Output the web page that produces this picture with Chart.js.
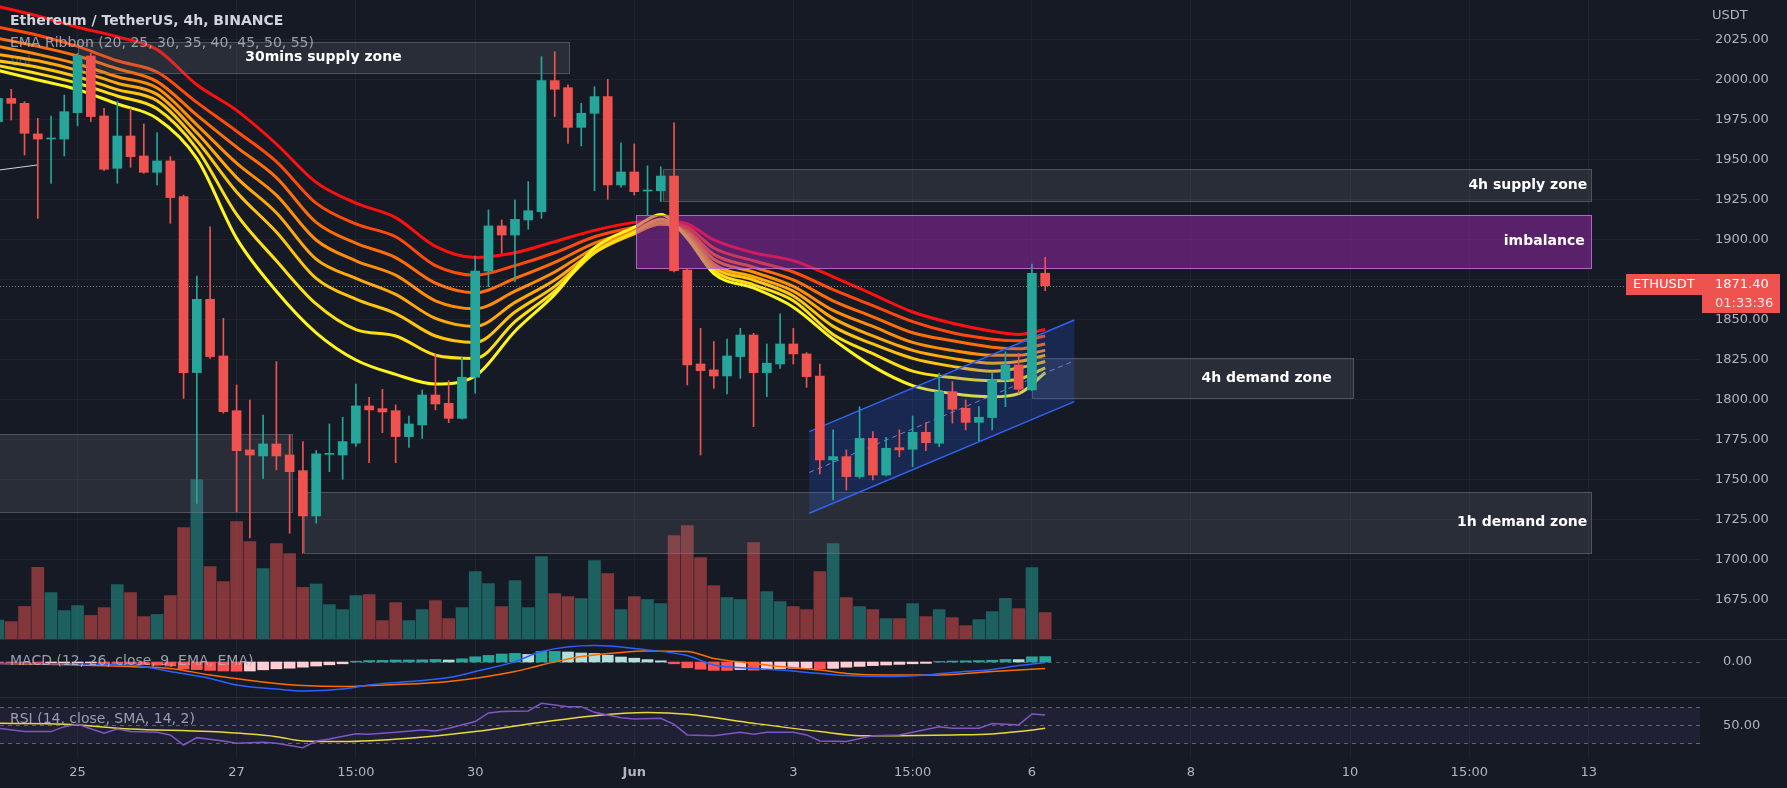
<!DOCTYPE html>
<html>
<head>
<meta charset="utf-8">
<title>ETHUSDT 4h</title>
<script src="https://cdn.jsdelivr.net/npm/chart.js@4.4.1/dist/chart.umd.min.js"></script>
<style>
  html, body { margin: 0; padding: 0; background: #161a25; overflow: hidden; }
  #wrap { position: relative; width: 1787px; height: 788px; }
  #wrap canvas { position: absolute; left: 0; }
  #cMain { top: 0; }
  #cMacd { top: 639px; }
  #cRsi { top: 697px; }
  .sep { position: absolute; left: 0; width: 1787px; height: 1px; background: #2a2e39; }
</style>
</head>
<body>
<div id="wrap">
  <canvas id="cMain" width="1787" height="639"></canvas>
  <canvas id="cMacd" width="1787" height="58"></canvas>
  <canvas id="cRsi" width="1787" height="91"></canvas>
  <div class="sep" style="top:639px"></div>
  <div class="sep" style="top:697px"></div>
</div>

<script>
// =====================================================================
// DATA  (candle index 0 = 24 May 03:00, one step = 4h)
// =====================================================================
const opens = [1974,1988.5,1985.4,1966.3,1963.1,1963.1,1979.6,2015,1977.5,1944.8,
  1965,1952.5,1942.3,1949.4,1927.1,1817.1,1862.9,1827.5,1793.3,1768.8,
  1765,1772.5,1765.6,1755.8,1727.5,1766,1765.6,1773,1796.3,1794.6,
  1793.3,1777.1,1784.4,1803.1,1797.9,1788.5,1814.2,1880.6,1908.8,1903.1,
  1912.5,1917.7,1999.6,1995.2,1970.4,1979.2,1989.6,1934.4,1942.5,1930.6,
  1930.8,1940,1881.2,1822.5,1818.8,1815,1827.1,1840.6,1817.1,1822.5,
  1835,1828.8,1815,1762.5,1764.6,1752.1,1776,1753.1,1770.2,1769.2,
  1779.8,1773,1805.2,1794.8,1786,1789,1812.5,1821.9,1806.3,1879.2];
const highs = [1992,1994.2,1986.5,1976,1977.5,1990.6,2016.7,2016.7,1982.3,1986.5,
  1982.3,1972.5,1967.1,1952.1,1928.1,1877.5,1908.3,1851,1809.4,1800,
  1790.6,1824,1778.1,1774,1768.3,1785,1789.2,1810,1801.7,1806.7,
  1797,1790,1806.3,1828.8,1812.1,1827,1890,1918.8,1912.5,1925,
  1936.5,2014.6,2017.7,1996.9,1985.4,1995.8,2000.4,1960.8,1960,1946.3,
  1945.8,1973.3,1882.3,1844.8,1836.5,1838,1844.8,1841.7,1835,1853.8,
  1844.8,1829.6,1822.5,1781.3,1768.8,1795.8,1780.2,1776.7,1781.3,1790,
  1785.8,1816.7,1811.5,1800,1795.8,1817.1,1830.2,1829.2,1885,1889.2];
const lows = [1970,1975,1953.1,1913.5,1935.4,1952.5,1971.3,1974,1943.3,1935.4,
  1945.4,1941.7,1934.4,1910.4,1801,1735.4,1826,1791.7,1730.2,1713.8,
  1751,1756.3,1716.7,1704.2,1723,1755.2,1750.4,1771,1760.8,1779.6,
  1760.8,1770.4,1776,1793.8,1785.8,1788,1804.2,1870.8,1891.7,1874,
  1906.7,1913.5,1977.1,1960.4,1958.8,1930.8,1925.4,1933,1928.1,1915,
  1924,1880,1809.4,1765.6,1807.3,1803.8,1813.5,1783.3,1802.1,1819.8,
  1822.5,1807.9,1753.8,1737.5,1743.8,1751,1750,1752.5,1764.5,1758.3,
  1768.3,1770.8,1785.5,1781.3,1774.5,1781.3,1795.8,1804.2,1805.8,1868.3];
const closes = [1988.5,1985.4,1966.7,1963.1,1963.7,1980.2,2015,1977.1,1944.2,1965,
  1952.1,1942.3,1949.4,1926.5,1817.1,1862.9,1827.1,1792.7,1768.3,1765.6,
  1772.5,1765,1755.2,1727.5,1766.3,1766.6,1774,1796.3,1793.8,1792.5,
  1777.1,1785,1803.1,1797.5,1788.5,1814.2,1880.6,1908.8,1903.1,1912.9,
  1918.3,1999.6,1994.2,1970.4,1979.2,1989.6,1934.4,1942.5,1930.2,1931.2,
  1940,1880.8,1821.9,1818.3,1815,1827.5,1840.6,1817.1,1823,1835,
  1828.8,1814.6,1762.5,1764.6,1752.1,1776,1753.1,1769.8,1768.8,1779.8,
  1773.3,1805.2,1794.2,1786,1789.2,1812.5,1821.9,1806.7,1879.2,1871.4];
// volume, thousand ETH
const volumes = [9.5,8.7,16.3,35.8,23.2,14.2,16.7,11.8,15.7,27.2,
  23.2,11.2,12.3,21.7,55.7,79.7,36.2,28.7,58.7,48.7,
  35.2,47.7,42.7,25.8,27.5,17.2,14.7,21.7,22.2,9.2,
  18.2,9.2,14.7,19.2,10.2,15.7,33.7,27.7,16.2,29.2,
  15.7,41.2,22.7,21.2,20.2,39.2,32.7,14.7,21.2,19.7,
  17.7,51.7,56.7,40.7,26.7,20.7,19.7,48.2,23.7,18.7,
  16.2,14.7,33.7,47.7,20.7,16.2,14.7,10.2,10.2,17.7,
  11.2,14.7,10.7,6.7,9.7,13.7,20.3,15.2,35.7,13.2];

// EMA ribbon, read at these candle indexes
const ribbonIdx = [0,3,6,9,12,15,18,21,24,27,30,33,36,39,42,45,48,50,52,54,57,60,63,66,69,72,75,77,79];
const ema55 = [2046,2040,2033,2027,2019,1997,1981,1960,1936,1923,1914,1896,1889,1892,1899,1906,1911,1912,1910,1900,1892,1887,1877,1866,1855,1848,1843,1841,1844];
const ema50 = [2033,2028,2021,2012,2005,1986,1968,1949,1923,1910,1902,1884,1878,1884,1892,1902,1908,1911,1908,1895,1887,1880,1869,1859,1849,1842,1838,1837,1840];
const ema45 = [2026,2021,2015,2007,1999,1978,1958,1939,1911,1898,1889,1873,1867,1876,1886,1898,1906,1910,1906,1891,1883,1875,1862,1852,1842,1837,1833,1832,1835];
const ema40 = [2021,2016,2010,2002,1995,1972,1948,1928,1900,1887,1878,1862,1857,1868,1880,1895,1905,1910,1905,1888,1880,1871,1856,1846,1836,1831,1828,1828,1831];
const ema35 = [2016,2012,2006,1998,1991,1967,1939,1917,1888,1876,1866,1851,1846,1861,1875,1893,1904,1910,1904,1885,1877,1868,1851,1840,1831,1826,1823,1824,1828];
const ema30 = [2012,2008,2002,1994,1987,1962,1930,1905,1876,1863,1854,1840,1836,1855,1871,1892,1904,1911,1903,1883,1875,1865,1846,1835,1826,1821,1818,1820,1824];
const ema25 = [2009,2004,1998,1990,1982,1957,1916,1887,1860,1844,1840,1828,1826,1849,1868,1892,1905,1913,1902,1881,1872,1862,1841,1829,1818,1814,1812,1813,1820];
const ema20 = [2006,2000,1994,1985,1976,1951,1901,1868,1842,1825,1816,1810,1815,1843,1866,1895,1908,1916,1901,1879,1870,1858,1838,1821,1809,1804,1802,1804,1817];
const ribbonPeriods = [55, 50, 45, 40, 35, 30, 25, 20];

// MACD (12, 26, 9)
const macdIdx = [0,10,13,16,18,21,23,26,28,31,34,36,39,41,45,49,52,54,57,59,62,64,67,70,72,75,77,79];
const macdLine = [-0.7,-1.5,-4.8,-8.2,-11.5,-13.5,-14.5,-13.5,-11.5,-9.8,-7.8,-4.8,0.2,5.2,8.2,6,3.2,-1.5,-3.2,-4,-5.7,-6.8,-7.3,-6.5,-5.2,-3.7,-1.8,-0.2];
const signalIdx = [0,10,13,16,21,23,26,28,34,39,41,44,47,49,52,54,57,59,62,64,67,70,72,75,77,79];
const signalLine = [-0.7,-2.3,-3.2,-6.5,-10.7,-11.8,-12.3,-11.8,-9.8,-4.8,-1.5,2.7,4.8,5.5,5.2,1.8,-0.7,-2.3,-4,-5.7,-6.5,-6.5,-6.2,-4.8,-4,-3.2];
const macdHist = [-0.6,-0.7,-0.9,-1.2,-1.1,-0.9,-0.5,-0.4,-0.8,-0.8,
  -1.0,-1.3,-1.6,-2.0,-3.5,-3.8,-4.2,-4.5,-4.6,-4.5,
  -3.9,-3.4,-3.1,-2.6,-2.0,-1.4,-0.9,0.4,0.7,0.8,
  1.0,1.0,1.1,1.3,1.0,1.6,2.6,3.3,4.0,4.3,
  3.8,5.3,5.3,5.0,4.5,4.3,3.4,2.5,1.9,1.2,
  0.6,-0.9,-2.9,-3.6,-4.2,-4.2,-3.8,-4.1,-3.8,-3.3,
  -3.1,-3.0,-3.4,-3.2,-2.6,-2.2,-1.8,-1.5,-1.2,-0.9,
  -0.7,0.3,0.5,0.6,0.7,0.9,1.3,1.2,2.6,2.7];

// RSI (14) and its SMA (14)
const rsiIdx = [0,2,4,5,6,8,9,10,12,13,14,15,17,18,20,21,23,24,25,27,28,30,32,33,34,36,37,38,40,41,43,44,45,47,48,50,51,52,54,56,57,58,60,61,62,64,66,68,69,71,72,74,75,77,78,79];
const rsiVal = [46.7,43,43,48.5,51.1,41.1,45.9,43,42.2,39.3,28.1,36.3,32.6,30,31.1,30,25.2,32.6,34.8,40.7,40,42.2,44.8,43.7,46.7,54.1,63.7,65.2,65.9,74.4,70.7,70.7,64.4,58.5,57,57.8,51.1,39.3,38.5,42.2,40,42.2,42.2,39.3,32.6,31.9,38.5,39.3,42.2,48.5,46.7,46.7,51.9,50.4,62.6,61.5];
const rsiMaIdx = [0,5,10,16,21,23,26,31,36,41,45,49,52,57,62,65,67,72,75,77,79];
const rsiMa = [52.2,51.1,45.9,43,37.4,32.6,31.9,35.6,43,53.3,60.7,64.1,62.2,52.2,43,38.5,38.5,39.3,40.4,43,46.7];

// axis ticks
const priceTicks = [1675,1700,1725,1750,1775,1800,1825,1850,1875,1900,1925,1950,1975,2000,2025];
const tickIdx = [6, 18, 27, 36, 48, 60, 69, 78, 90, 102, 111, 120];
const tickLabels = ['25', '27', '15:00', '30', 'Jun', '3', '15:00', '6', '8', '10', '15:00', '13'];

const lastPrice = 1871.40;
const countdown = '01:33:36';

// drawings (candle index / price)
const zones = [
  { x0: -1,   x1: 22.2,  top: 1778.6, bottom: 1730.2, kind: 'gray',   text: '' },
  { x0: 6,    x1: 43.1,  top: 2023.8, bottom: 2004.4, kind: 'gray',   text: '30mins supply zone', tx: 24.55, align: 'center' },
  { x0: 50.2, x1: 120.2, top: 1944.2, bottom: 1924.6, kind: 'gray',   text: '4h supply zone', tx: 119.9, align: 'right' },
  { x0: 48.1, x1: 120.2, top: 1915.6, bottom: 1882.3, kind: 'purple', text: 'imbalance', tx: 119.7, align: 'right' },
  { x0: 78,   x1: 102.2, top: 1826,   bottom: 1801,   kind: 'gray',   text: '4h demand zone', tx: 95.7, align: 'center' },
  { x0: 23.1, x1: 120.2, top: 1742.7, bottom: 1704.6, kind: 'gray',   text: '1h demand zone', tx: 119.9, align: 'right' }
];
const channel = { x0: 61.2, x1: 81.2, upper: [1780.2, 1850.0], lower: [1729.2, 1799.0] };
const trendLine = { x0: 0.15, y0: 1943.8, x1: 2.97, y1: 1946.9 };


// =====================================================================
// STYLE
// =====================================================================
const BG = '#161a25';
const GRID = '#1f2330';
const TXT = '#b2b5be';
const UP = '#26a69a';
const DOWN = '#ef5350';
const VOL_UP = 'rgba(38,166,154,0.5)';
const VOL_DOWN = 'rgba(239,83,80,0.5)';
const ribbonColors = ['#ff1010', '#ff4a0c', '#ff6d0a', '#ff8c0a', '#ffa90c', '#ffc40e', '#ffdf14', '#fff61e'];
const FONT = '"DejaVu Sans", sans-serif';
const X_MIN = 0.15, X_MAX = 128.4, AXIS_W = 87;

Chart.defaults.font.family = FONT;
Chart.defaults.animation = false;
Chart.defaults.events = [];
Chart.defaults.plugins.legend.display = false;
Chart.defaults.plugins.tooltip.enabled = false;


// =====================================================================
// SHARED SCALES
// =====================================================================
function noPadding(s) {
  s.paddingTop = 0; s.paddingBottom = 0; s.paddingLeft = 0; s.paddingRight = 0;
}

function timeScale(withLabels) {
  return {
    type: 'linear', min: X_MIN, max: X_MAX, offset: false,
    afterBuildTicks: s => { s.ticks = tickIdx.map(v => ({ value: v })); },
    grid: { color: GRID, drawTicks: false, offset: false },
    border: { display: false },
    ticks: withLabels ? {
      color: TXT, padding: 7, maxRotation: 0, autoSkip: false,
      font: ctx => ({ size: 13, weight: tickLabels[ctx.index] === 'Jun' ? 'bold' : 'normal' }),
      callback: (v, i) => tickLabels[i]
    } : { display: false },
    afterFit: s => { s.height = withLabels ? 30 : 0; noPadding(s); }
  };
}

function rightAxis(opts) {
  return Object.assign({
    position: 'right',
    border: { display: false },
    afterFit: s => { s.width = AXIS_W; noPadding(s); }
  }, opts);
}

const idx = opens.map((_, i) => i);
const isUp = idx.map(i => closes[i] >= opens[i]);
const pts = (xs, ys) => xs.map((x, j) => ({ x, y: ys[j] }));


// =====================================================================
// MAIN PANE: candles, volume, ribbon, drawings
// =====================================================================
const drawingsPlugin = {
  id: 'drawings',
  beforeDatasetDraw(chart, args) {
    if (chart.data.datasets[args.index].label !== 'wicks') return;
    const { ctx, chartArea: a } = chart;
    const px = v => chart.scales.x.getPixelForValue(v);
    const py = v => chart.scales.y.getPixelForValue(v);

    ctx.save();
    ctx.beginPath();
    ctx.rect(a.left, a.top, a.right - a.left, a.bottom - a.top);
    ctx.clip();

    // zones
    zones.forEach(z => {
      const x = Math.round(px(z.x0)) + 0.5, x2 = Math.round(px(z.x1)) + 0.5;
      const y = Math.round(py(z.top)) + 0.5, y2 = Math.round(py(z.bottom)) + 0.5;
      ctx.fillStyle = z.kind === 'purple' ? 'rgba(156,39,176,0.5)' : 'rgba(120,123,134,0.2)';
      ctx.strokeStyle = z.kind === 'purple' ? 'rgba(190,110,210,0.9)' : 'rgba(120,123,134,0.55)';
      ctx.lineWidth = 1;
      ctx.fillRect(x, y, x2 - x, y2 - y);
      ctx.strokeRect(x, y, x2 - x, y2 - y);
    });

    // rising channel
    const c = channel;
    ctx.beginPath();
    ctx.moveTo(px(c.x0), py(c.upper[0]));
    ctx.lineTo(px(c.x1), py(c.upper[1]));
    ctx.lineTo(px(c.x1), py(c.lower[1]));
    ctx.lineTo(px(c.x0), py(c.lower[0]));
    ctx.closePath();
    ctx.fillStyle = 'rgba(41,98,255,0.2)';
    ctx.fill();
    ctx.strokeStyle = '#2f63f0';
    ctx.lineWidth = 1.5;
    [c.upper, c.lower].forEach(l => {
      ctx.beginPath();
      ctx.moveTo(px(c.x0), py(l[0]));
      ctx.lineTo(px(c.x1), py(l[1]));
      ctx.stroke();
    });
    ctx.setLineDash([5, 4]);
    ctx.lineWidth = 1;
    ctx.strokeStyle = 'rgba(120,150,255,0.8)';
    ctx.beginPath();
    ctx.moveTo(px(c.x0), py((c.upper[0] + c.lower[0]) / 2));
    ctx.lineTo(px(c.x1), py((c.upper[1] + c.lower[1]) / 2));
    ctx.stroke();

    // last price line
    ctx.setLineDash([1, 2]);
    ctx.strokeStyle = 'rgba(210,212,220,0.55)';
    const yl = Math.round(py(lastPrice)) + 0.5;
    ctx.beginPath();
    ctx.moveTo(a.left, yl);
    ctx.lineTo(a.right, yl);
    ctx.stroke();
    ctx.setLineDash([]);

    // trend line stub top left
    ctx.strokeStyle = '#d1d4dc';
    ctx.lineWidth = 1;
    ctx.beginPath();
    ctx.moveTo(px(trendLine.x0), py(trendLine.y0));
    ctx.lineTo(px(trendLine.x1), py(trendLine.y1));
    ctx.stroke();

    ctx.restore();
  },
  afterDraw(chart) {
    const { ctx, chartArea: a } = chart;
    const px = v => chart.scales.x.getPixelForValue(v);
    const py = v => chart.scales.y.getPixelForValue(v);
    ctx.save();
    ctx.textBaseline = 'middle';

    // zone captions
    ctx.font = 'bold 14px ' + FONT;
    ctx.fillStyle = '#ffffff';
    zones.filter(z => z.text).forEach(z => {
      ctx.textAlign = z.align;
      ctx.fillText(z.text, px(z.tx), py((z.top + z.bottom) / 2));
    });

    // legend texts
    ctx.textAlign = 'left';
    ctx.font = 'bold 14px ' + FONT;
    ctx.fillStyle = '#d1d4dc';
    ctx.fillText('Ethereum / TetherUS, 4h, BINANCE', 10, 21);
    ctx.font = '14px ' + FONT;
    ctx.fillStyle = 'rgba(178,181,190,0.85)';
    ctx.fillText('EMA Ribbon (20, 25, 30, 35, 40, 45, 50, 55)', 10, 43);
    ctx.fillStyle = 'rgba(178,181,190,0.3)';
    ctx.fillText('Vol', 10, 62);

    // price axis unit
    ctx.font = '13px ' + FONT;
    ctx.fillStyle = TXT;
    ctx.fillText('USDT', a.right + 12, 16);

    // last price badge
    const y = Math.round(py(lastPrice));
    ctx.fillStyle = DOWN;
    ctx.fillRect(a.right - 74, y - 12, 154, 21);
    ctx.fillRect(a.right + 2, y + 9, 78, 18);
    ctx.fillStyle = '#ffffff';
    ctx.fillText('ETHUSDT', a.right - 67, y - 1);
    ctx.fillText(lastPrice.toFixed(2), a.right + 15, y - 1);
    ctx.fillStyle = 'rgba(255,255,255,0.85)';
    ctx.fillText(countdown, a.right + 15, y + 18);
    ctx.restore();
  }
};

const ribbonSets = [ema55, ema50, ema45, ema40, ema35, ema30, ema25, ema20].map((vals, k) => ({
  type: 'line',
  label: 'EMA ' + ribbonPeriods[k],
  data: pts(ribbonIdx, vals),
  borderColor: ribbonColors[k],
  borderWidth: 3,
  pointRadius: 0,
  cubicInterpolationMode: 'monotone',
  yAxisID: 'y',
  order: 12 - k
}));

new Chart(document.getElementById('cMain'), {
  type: 'bar',
  data: {
    datasets: [
      {
        label: 'volume',
        data: pts(idx, volumes),
        backgroundColor: idx.map(i => isUp[i] ? VOL_UP : VOL_DOWN),
        barThickness: 12, grouped: false, yAxisID: 'yVol', order: 20
      },
      ...ribbonSets,
      {
        label: 'wicks',
        data: idx.map(i => ({ x: i, y: [lows[i], highs[i]] })),
        backgroundColor: idx.map(i => isUp[i] ? UP : DOWN),
        barThickness: 1, grouped: false, yAxisID: 'y', order: 2
      },
      {
        label: 'bodies',
        data: idx.map(i => ({ x: i, y: [opens[i], closes[i]] })),
        backgroundColor: idx.map(i => isUp[i] ? UP : DOWN),
        barThickness: 9, minBarLength: 1, grouped: false, yAxisID: 'y', order: 1
      }
    ]
  },
  options: {
    responsive: false,
    layout: { padding: 0 },
    scales: {
      x: timeScale(false),
      y: rightAxis({
        min: 1650.6, max: 2050,
        afterBuildTicks: s => { s.ticks = priceTicks.map(v => ({ value: v })); },
        grid: { color: GRID, drawTicks: false },
        ticks: { color: TXT, padding: 15, font: { size: 13 }, callback: v => v.toFixed(2) }
      }),
      yVol: { display: false, min: 0, max: 319.5 }
    }
  },
  plugins: [drawingsPlugin]
});


// =====================================================================
// MACD PANE
// =====================================================================
const histColors = macdHist.map((h, i) => {
  const prev = i ? macdHist[i - 1] : h;
  if (h >= 0) return h >= prev ? '#26a69a' : '#b2dfdb';
  return h <= prev ? '#ff5252' : '#ffcdd2';
});

const macdPlugin = {
  id: 'macdDecor',
  beforeDatasetsDraw(chart) {
    const { ctx, chartArea: a } = chart;
    const y = Math.round(chart.scales.y.getPixelForValue(0)) + 0.5;
    ctx.save();
    ctx.setLineDash([4, 4]);
    ctx.strokeStyle = 'rgba(120,123,134,0.6)';
    ctx.lineWidth = 1;
    ctx.beginPath(); ctx.moveTo(a.left, y); ctx.lineTo(a.right, y); ctx.stroke();
    ctx.restore();
  },
  afterDraw(chart) {
    const { ctx } = chart;
    ctx.save();
    ctx.font = '14px ' + FONT;
    ctx.fillStyle = 'rgba(178,181,190,0.85)';
    ctx.textBaseline = 'middle';
    ctx.fillText('MACD (12, 26, close, 9, EMA, EMA)', 10, 22);
    ctx.restore();
  }
};

new Chart(document.getElementById('cMacd'), {
  type: 'bar',
  data: {
    datasets: [
      { type: 'line', label: 'MACD', data: pts(macdIdx, macdLine), borderColor: '#2962ff', borderWidth: 1.5,
        pointRadius: 0, cubicInterpolationMode: 'monotone', order: 1 },
      { type: 'line', label: 'Signal', data: pts(signalIdx, signalLine), borderColor: '#ff6d00', borderWidth: 1.5,
        pointRadius: 0, cubicInterpolationMode: 'monotone', order: 2 },
      { label: 'Histogram', data: pts(idx, macdHist), backgroundColor: histColors, barThickness: 11,
        grouped: false, order: 3 }
    ]
  },
  options: {
    responsive: false,
    layout: { padding: 0 },
    scales: {
      x: timeScale(false),
      y: rightAxis({
        min: -17.5, max: 11.5,
        afterBuildTicks: s => { s.ticks = [{ value: 0 }]; },
        grid: { display: false },
        ticks: { color: TXT, padding: 15, font: { size: 13 }, callback: v => v.toFixed(2) }
      })
    }
  },
  plugins: [macdPlugin]
});


// =====================================================================
// RSI PANE + TIME AXIS
// =====================================================================
const rsiPlugin = {
  id: 'rsiDecor',
  beforeDatasetsDraw(chart) {
    const { ctx, chartArea: a } = chart;
    const py = v => Math.round(chart.scales.y.getPixelForValue(v)) + 0.5;
    ctx.save();
    ctx.fillStyle = 'rgba(126,87,194,0.1)';
    ctx.fillRect(a.left, py(70), a.right - a.left, py(30) - py(70));
    ctx.setLineDash([4, 4]);
    ctx.strokeStyle = 'rgba(120,123,134,0.75)';
    ctx.lineWidth = 1;
    [70, 50, 30].forEach(v => {
      ctx.beginPath(); ctx.moveTo(a.left, py(v)); ctx.lineTo(a.right, py(v)); ctx.stroke();
    });
    ctx.restore();
  },
  afterDraw(chart) {
    const { ctx } = chart;
    ctx.save();
    ctx.font = '14px ' + FONT;
    ctx.fillStyle = 'rgba(178,181,190,0.85)';
    ctx.textBaseline = 'middle';
    ctx.fillText('RSI (14, close, SMA, 14, 2)', 10, 22);
    ctx.restore();
  }
};

new Chart(document.getElementById('cRsi'), {
  type: 'line',
  data: {
    datasets: [
      { label: 'RSI', data: pts(rsiIdx, rsiVal), borderColor: '#7e57c2', borderWidth: 1.5, pointRadius: 0, order: 1 },
      { label: 'RSI MA', data: pts(rsiMaIdx, rsiMa), borderColor: '#e8d93a', borderWidth: 1.5, pointRadius: 0,
        cubicInterpolationMode: 'monotone', order: 2 }
    ]
  },
  options: {
    responsive: false,
    layout: { padding: 0 },
    scales: {
      x: timeScale(true),
      y: rightAxis({
        min: 13.7, max: 81.4,
        afterBuildTicks: s => { s.ticks = [{ value: 50 }]; },
        grid: { display: false },
        ticks: { color: TXT, padding: 15, font: { size: 13 }, callback: v => v.toFixed(2) }
      })
    }
  },
  plugins: [rsiPlugin]
});
</script>
</body>
</html>
